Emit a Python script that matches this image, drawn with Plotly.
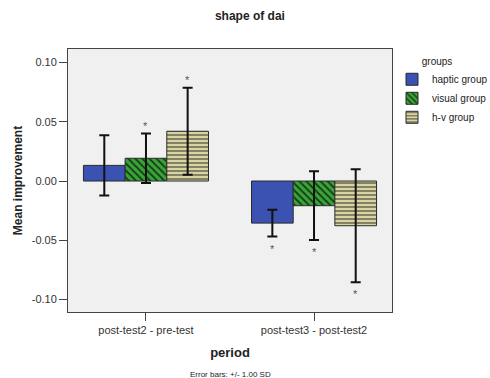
import plotly.graph_objects as go

periods = ["post-test2 - pre-test", "post-test3 - post-test2"]
groups = ["haptic group", "visual group", "h-v group"]
means = {
    "haptic group": [0.0132, -0.0355],
    "visual group": [0.0192, -0.0208],
    "h-v group": [0.0420, -0.0377],
}
sds = {
    "haptic group": [0.0255, 0.0113],
    "visual group": [0.0209, 0.0290],
    "h-v group": [0.0368, 0.0476],
}
stars = {
    "haptic group": [False, True],
    "visual group": [True, True],
    "h-v group": [True, True],
}
ytick_vals = [-0.10, -0.05, 0.00, 0.05, 0.10]
ytick_text = ["-0.10", "-0.05", "0.00", "0.05", "0.10"]

styles = {
    "haptic group": dict(color="#3c52b2", pattern=dict(shape="")),
    "visual group": dict(color="#3aa33a",
                         pattern=dict(shape="\\", fgcolor="#143c14", bgcolor="#3aa33a",
                                      size=5, solidity=0.35, fillmode="replace")),
    "h-v group": dict(color="#d9d5a2",
                      pattern=dict(shape="-", fgcolor="#4a4a3a", bgcolor="#d9d5a2",
                                   size=4, solidity=0.3, fillmode="replace")),
}

bw = 0.248
offsets = [-bw, 0.0, bw]

fig = go.Figure()
annotations = []
for gi, g in enumerate(groups):
    xs = [i + offsets[gi] for i in range(len(periods))]
    fig.add_trace(go.Bar(
        x=xs, y=means[g], width=bw, name=g,
        marker=dict(color=styles[g]["color"], pattern=styles[g]["pattern"],
                    line=dict(color="#2a2a2a", width=1)),
        error_y=dict(type="data", array=sds[g], visible=True,
                     color="#111111", thickness=2, width=5),
    ))
    for i in range(len(periods)):
        if stars[g][i]:
            m, s = means[g][i], sds[g][i]
            up = m >= 0
            annotations.append(dict(
                x=xs[i], y=(m + s) if up else (m - s), xref="x", yref="y",
                text="*", showarrow=False,
                yshift=8 if up else -12,
                font=dict(size=11, color="#555555", family="Liberation Sans, Arial"),
            ))

annotations.append(dict(
    x=0.5, y=-0.262, xref="paper", yref="paper", text="Error bars: +/- 1.00 SD",
    showarrow=False, font=dict(size=8, color="#222222", family="Liberation Sans, Arial"),
))

fig.update_layout(
    width=490, height=378,
    margin=dict(l=68, r=98, t=49, b=66, autoexpand=False),
    paper_bgcolor="white", plot_bgcolor="#f0f0f0",
    title=dict(text="<b>shape of dai</b>", x=0.51, xanchor="center", y=0.97, yanchor="top",
               font=dict(size=12, color="#222222", family="Liberation Sans, Arial")),
    font=dict(family="Liberation Sans, Arial", size=11, color="#333333"),
    barmode="overlay",
    showlegend=True,
    legend=dict(xref="container", yref="container", x=0.80, y=0.863,
                xanchor="left", yanchor="top",
                title=dict(text="          groups", font=dict(size=10, color="#222222")),
                font=dict(size=10, color="#222222"),
                bgcolor="rgba(0,0,0,0)", tracegroupgap=2, itemwidth=30),
    annotations=annotations,
)
fig.update_xaxes(
    range=[-0.464, 1.464], tickvals=[0, 1], ticktext=periods,
    ticks="outside", ticklen=8, tickcolor="#444444", tickwidth=1,
    showline=True, linecolor="#444444", linewidth=1, mirror=True,
    showgrid=False, zeroline=False,
    title=dict(text="<b>period</b>", font=dict(size=13, color="#222222"), standoff=12),
)
fig.update_yaxes(
    range=[-0.1105, 0.1114], tickvals=ytick_vals, ticktext=ytick_text,
    ticks="outside", ticklen=8, tickcolor="#444444", tickwidth=1,
    showline=True, linecolor="#444444", linewidth=1, mirror=True,
    showgrid=False, zeroline=False,
    title=dict(text="<b>Mean improvement</b>", font=dict(size=12, color="#222222"), standoff=6),
)
fig.write_html("out.html")
